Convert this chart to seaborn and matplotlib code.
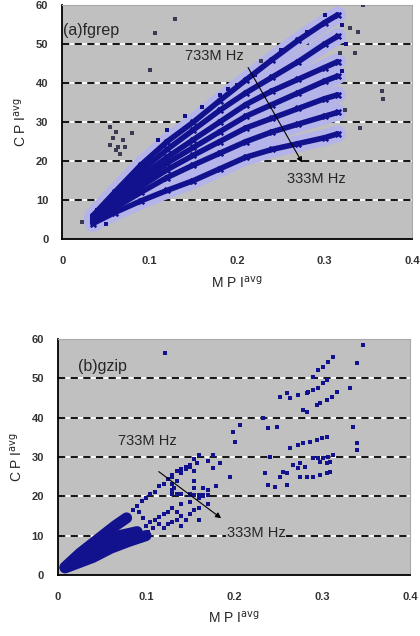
import numpy as np
import pandas as pd
import seaborn as sns
import matplotlib
matplotlib.use("Agg")
import matplotlib.pyplot as plt

# ---- (a) fgrep : seven frequency streaks (733MHz top ... 333MHz bottom)
fg_x = [0.035, 0.06, 0.09, 0.12, 0.15, 0.18, 0.21, 0.24, 0.27, 0.30, 0.315]
fg_lines = [
    [6.0, 12.0, 19.0, 25.0, 30.0, 35.5, 40.8, 46.0, 51.0, 55.5, 57.5],
    [5.8, 11.3, 17.5, 23.0, 28.0, 33.0, 37.5, 41.5, 45.5, 50.0, 52.0],
    [5.5, 10.5, 16.0, 21.0, 25.5, 30.0, 34.5, 38.0, 41.0, 44.0, 45.5],
    [5.2, 9.8, 14.8, 19.5, 23.5, 27.5, 31.5, 34.5, 37.5, 40.5, 41.8],
    [5.0, 9.0, 13.5, 17.8, 21.5, 25.0, 28.5, 31.0, 33.5, 36.0, 37.0],
    [4.6, 8.0, 12.0, 15.8, 19.0, 22.0, 25.0, 27.5, 29.5, 31.5, 32.5],
    [4.0, 6.8, 9.8, 12.5, 15.0, 18.0, 21.0, 23.0, 24.5, 26.0, 27.0],
]
fg_sparse_x = [0.11, 0.12, 0.14, 0.16, 0.18, 0.19, 0.20, 0.22, 0.25, 0.28, 0.30, 0.32, 0.325, 0.32,
               0.045, 0.05, 0.04, 0.075, 0.085]
fg_sparse_y = [25.5, 28.0, 31.5, 34.0, 37.0, 38.5, 39.5, 42.0, 48.5, 53.0, 57.5, 55.0, 50.0, 43.0,
               8.0, 4.0, 7.5, 14.5, 16.0]
fg_out_x = [0.023, 0.129, 0.106, 0.100, 0.055, 0.061, 0.080, 0.058, 0.069, 0.055, 0.064, 0.072,
            0.061, 0.066, 0.227, 0.338, 0.335, 0.318, 0.329, 0.367, 0.366, 0.323, 0.340, 0.344]
fg_out_y = [4.4, 56.4, 52.8, 43.3, 28.7, 27.4, 27.2, 25.9, 25.4, 24.1, 23.6, 23.6,
            22.8, 21.8, 45.6, 53.0, 47.7, 47.7, 54.0, 36.0, 38.0, 33.0, 28.5, 60.0]

# ---- (b) gzip : dense bands near the origin + scattered points
gz_bands = [
    ([0.008, 0.02, 0.04, 0.06, 0.08, 0.10], [1.8, 2.8, 4.5, 6.8, 8.5, 10.0]),
    ([0.008, 0.03, 0.05, 0.07, 0.09], [2.0, 4.8, 7.5, 10.0, 11.0]),
    ([0.010, 0.025, 0.045, 0.065, 0.078], [2.4, 5.5, 9.0, 12.5, 14.5]),
]
gz_x = [0.085, 0.09, 0.095, 0.10, 0.105, 0.11, 0.115, 0.12, 0.125, 0.13, 0.135, 0.14, 0.145, 0.15,
        0.155, 0.16, 0.158,
        0.10, 0.105, 0.11, 0.115, 0.12, 0.125, 0.13, 0.14, 0.15, 0.16, 0.165,
        0.13, 0.132, 0.135, 0.14, 0.145, 0.15, 0.155, 0.155, 0.155, 0.15, 0.14, 0.135, 0.13, 0.13, 0.13,
        0.12, 0.125, 0.13, 0.135, 0.14, 0.145, 0.15, 0.155, 0.16, 0.14, 0.135,
        0.15, 0.155, 0.16, 0.165, 0.17, 0.17,
        0.17, 0.176, 0.184, 0.176, 0.165, 0.17, 0.18, 0.16, 0.102, 0.108, 0.115, 0.092, 0.097,
        0.122, 0.347, 0.340, 0.3125, 0.307, 0.301, 0.295, 0.290,
        0.306, 0.301, 0.295, 0.290, 0.284, 0.317, 0.311, 0.306, 0.298, 0.294,
        0.252, 0.260, 0.264, 0.273, 0.283, 0.332, 0.278, 0.283, 0.233, 0.239, 0.249, 0.207,
        0.199, 0.201, 0.335, 0.340, 0.340,
        0.306, 0.300, 0.294, 0.286, 0.278, 0.273, 0.264,
        0.3125, 0.307, 0.301, 0.295, 0.290, 0.298, 0.306, 0.309,
        0.241, 0.267, 0.275, 0.281, 0.273, 0.256, 0.252, 0.260,
        0.235, 0.239, 0.247, 0.260, 0.275, 0.283, 0.290, 0.298, 0.306, 0.309, 0.195]
gz_y = [16.5, 17.5, 18.8, 19.5, 20.5, 21.2, 22.5, 23.0, 24.5, 25.5, 26.5, 27.0, 27.5, 28.0,
        29.5, 30.5, 28.5,
        12.5, 13.5, 14.0, 14.8, 15.5, 16.0, 17.0, 18.0, 18.5, 19.5, 20.0,
        20.5, 22.0, 24.0, 26.0, 27.0, 27.5, 26.5, 24.0, 22.0, 20.5, 20.5, 20.5, 21.5, 23.0, 25.0,
        12.0, 13.0, 13.5, 14.0, 15.0, 14.0, 15.5, 16.5, 17.0, 12.5, 16.0,
        20.4, 20.4, 20.4, 20.4, 20.4, 21.5,
        29.0, 30.5, 28.5, 27.2, 22.0, 18.0, 22.5, 14.0, 11.0, 12.0, 13.0, 16.0, 14.5,
        56.5, 58.5, 54.0, 55.5, 54.2, 52.9, 52.2, 50.4,
        49.6, 48.8, 47.6, 47.0, 46.6, 46.6, 45.3, 44.5, 43.8, 43.2,
        45.3, 46.3, 45.0, 45.8, 46.3, 47.6, 42.0, 41.5, 40.0, 37.4, 37.7, 38.2,
        36.4, 33.8, 37.7, 33.6, 31.8,
        35.1, 34.9, 34.4, 33.8, 33.6, 33.1, 32.3,
        30.5, 30.0, 29.8, 29.8, 29.8, 28.8, 28.5, 28.8,
        30.0, 28.0, 28.5, 27.5, 27.2, 26.2, 24.9, 26.0,
        26.0, 22.9, 22.4, 22.9, 24.9, 24.9, 24.9, 25.4, 26.0, 26.2, 25.0]

x_ticks = [0, 0.1, 0.2, 0.3, 0.4]
x_tick_labels = ["0", "0.1", "0.2", "0.3", "0.4"]
y_ticks = [0, 10, 20, 30, 40, 50, 60]

NAVY = "#12128e"
HALO = "#b4b4ea"

sns.set_style("white", {"axes.facecolor": "#c0c0c0"})
plt.rcParams["font.family"] = ["Liberation Sans", "DejaVu Sans"]

fig = plt.figure(figsize=(4.2, 6.36), dpi=100)
ax1 = fig.add_axes([0.148, 0.624, 0.833, 0.368])
ax2 = fig.add_axes([0.138, 0.096, 0.838, 0.371])


def style_axes(ax):
    ax.set_xlim(0, 0.4)
    ax.set_ylim(0, 60)
    for yv in y_ticks[1:-1]:
        ax.axhline(yv, color="white", lw=1.3, zorder=1)
        ax.axhline(yv, color="black", lw=1.3, ls=(0, (4, 3)), zorder=1.1)
    ax.set_xticks(x_ticks)
    ax.set_xticklabels(x_tick_labels)
    ax.set_yticks(y_ticks)
    ax.tick_params(axis="x", direction="in", length=3, pad=12, labelsize=8)
    ax.tick_params(axis="y", length=0, pad=10, labelsize=8)
    for lab in ax.get_xticklabels() + ax.get_yticklabels():
        lab.set_fontweight("bold")
        lab.set_color("#333333")
    for s in ["left", "bottom"]:
        ax.spines[s].set_color("black")
        ax.spines[s].set_linewidth(1.3)
    for s in ["top", "right"]:
        ax.spines[s].set_color("#a8a8a8")
        ax.spines[s].set_linewidth(0.8)
    ax.set_xlabel(r"M P I$^{\rm avg}$", fontsize=10, labelpad=6)
    ax.set_ylabel(r"C P I$^{\rm avg}$", fontsize=10, labelpad=5)


# --- panel (a)
rows = []
for i, ys in enumerate(fg_lines):
    for xv, yv in zip(fg_x, ys):
        rows.append({"x": xv, "y": yv, "line": i})
df_a = pd.DataFrame(rows)
sns.lineplot(data=df_a, x="x", y="y", units="line", estimator=None, sort=False,
             color=HALO, lw=12, ax=ax1, zorder=2, solid_capstyle="round")
sns.lineplot(data=df_a, x="x", y="y", units="line", estimator=None, sort=False,
             color=NAVY, lw=4, ax=ax1, zorder=3, solid_capstyle="round")
sns.scatterplot(data=df_a, x="x", y="y", marker="X", s=28, color=NAVY, lw=0, ax=ax1, zorder=3)
sns.scatterplot(x=fg_sparse_x, y=fg_sparse_y, marker="s", s=12, color=NAVY, lw=0, ax=ax1, zorder=3)
sns.scatterplot(x=fg_out_x, y=fg_out_y, marker="s", s=6, color="#3a3a55", lw=0, ax=ax1, zorder=3)
style_axes(ax1)
ax1.text(0.001, 53.5, "(a)fgrep", fontsize=11.5, va="center", ha="left", zorder=5)
ax1.text(0.14, 47, "733M Hz", fontsize=10.5, va="center", ha="left", zorder=5)
ax1.text(0.257, 15.5, "333M Hz", fontsize=10.5, va="center", ha="left", zorder=5)
ax1.annotate("", xy=(0.276, 19), xytext=(0.211, 44.6),
             arrowprops=dict(arrowstyle="-|>", color="black", lw=0.8, mutation_scale=8), zorder=5)

# --- panel (b)
for bx, by in gz_bands:
    sns.lineplot(x=bx, y=by, sort=False, color=NAVY, lw=8, ax=ax2, zorder=3,
                 solid_capstyle="round")
sns.scatterplot(x=gz_x, y=gz_y, marker="s", s=9, color=NAVY, lw=0, ax=ax2, zorder=3)
style_axes(ax2)
ax2.text(0.023, 53, "(b)gzip", fontsize=11.5, va="center", ha="left", zorder=5)
ax2.text(0.068, 34, "733M Hz", fontsize=10.5, va="center", ha="left", zorder=5)
ax2.text(0.192, 10.7, "333M Hz", fontsize=10.5, va="center", ha="left", zorder=5,
         bbox=dict(facecolor="#c0c0c0", edgecolor="none", pad=0.5))
ax2.annotate("", xy=(0.188, 14), xytext=(0.112, 26.7),
             arrowprops=dict(arrowstyle="-|>", color="black", lw=0.8, mutation_scale=8), zorder=5)

fig.savefig("out.png", dpi=100)
